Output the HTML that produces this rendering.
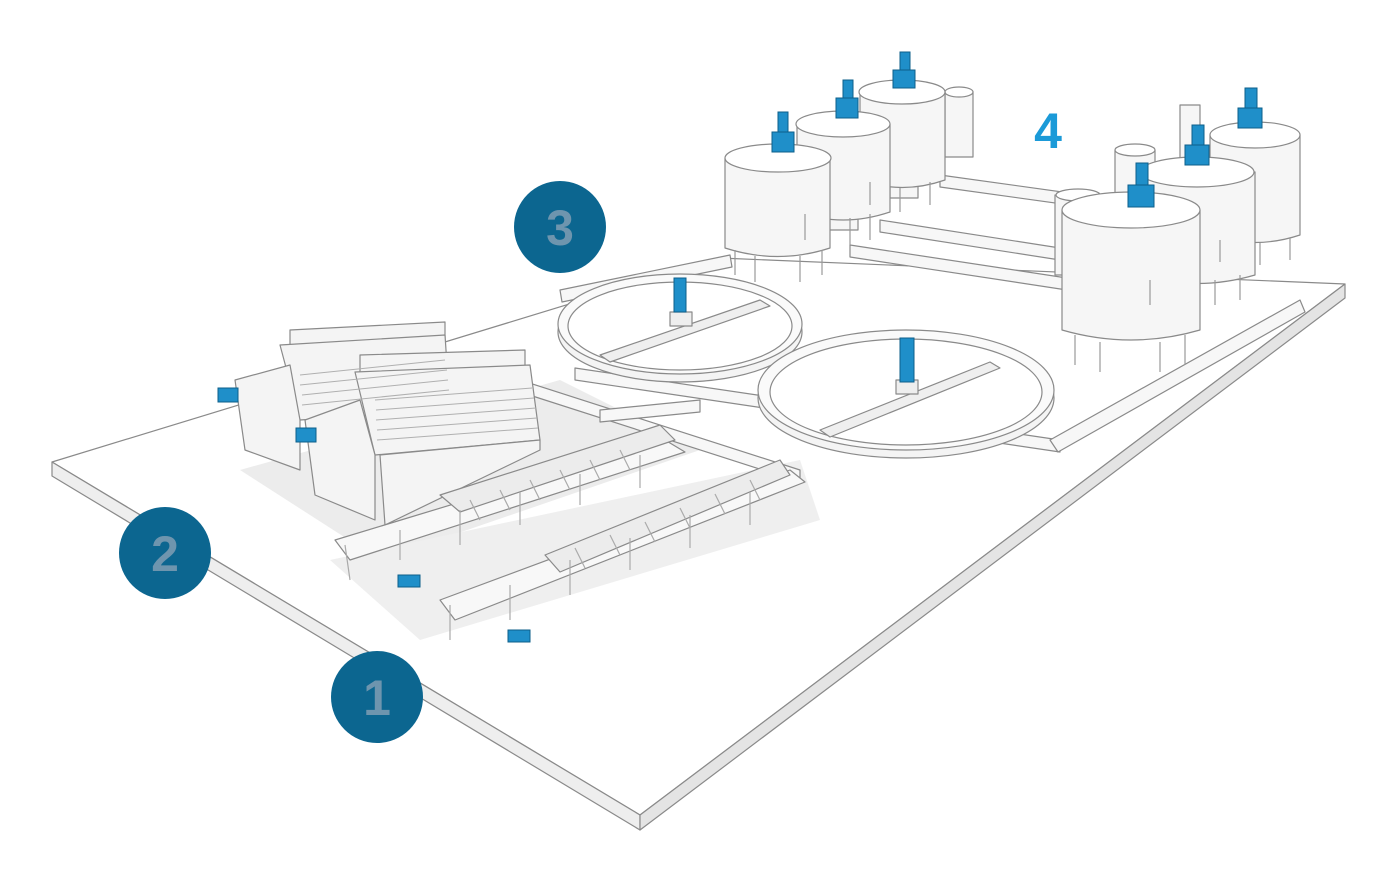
<!DOCTYPE html>
<html><head><meta charset="utf-8"><style>
html,body{margin:0;padding:0;background:#fff;}
svg{display:block}
</style></head><body>
<svg width="1400" height="884" viewBox="0 0 1400 884" xmlns="http://www.w3.org/2000/svg" font-family="Liberation Sans, sans-serif">
<g stroke="#8a8a8a" stroke-width="1.2" stroke-linejoin="round">
<!-- platform -->
<polygon points="52,462 720,258 1345,284 640,815" fill="#ffffff"/>
<polygon points="52,462 640,815 640,830 52,476" fill="#eeeeee"/>
<polygon points="640,815 1345,284 1345,298 640,830" fill="#e4e4e4"/>
<!-- shadows -->
<polygon points="240,470 560,380 700,450 380,560" fill="#ececec" stroke="none"/>
<polygon points="330,560 800,460 820,520 420,640" fill="#efefef" stroke="none"/>
<!-- pipes -->
<g fill="#f7f7f7">
<polygon points="575,368 1060,440 1060,452 575,380"/>
<polygon points="1050,440 1300,300 1305,312 1058,452"/>
<polygon points="560,290 730,255 732,267 562,302"/>
<polygon points="850,245 1080,280 1080,292 850,257"/>
<polygon points="940,175 1120,200 1120,212 940,187"/>
<polygon points="880,220 1060,248 1060,260 880,232"/>
<polygon points="520,380 800,470 800,482 520,392"/>
<polygon points="600,410 700,400 700,412 600,422"/>
</g>
<!-- clarifiers -->
<ellipse cx="680" cy="332" rx="122" ry="50" fill="#f4f4f4"/>
<ellipse cx="680" cy="324" rx="122" ry="50" fill="#fafafa"/>
<ellipse cx="680" cy="326" rx="112" ry="44" fill="#ffffff"/>
<polygon points="600,355 760,300 770,306 610,362" fill="#efefef"/>
<ellipse cx="906" cy="398" rx="148" ry="60" fill="#f4f4f4"/>
<ellipse cx="906" cy="390" rx="148" ry="60" fill="#fafafa"/>
<ellipse cx="906" cy="392" rx="136" ry="53" fill="#ffffff"/>
<polygon points="820,430 990,362 1000,368 830,437" fill="#efefef"/>
<rect x="670" y="312" width="22" height="14" fill="#eee"/>
<rect x="896" y="380" width="22" height="14" fill="#eee"/>
<!-- tanks left group -->
<g fill="#f6f6f6">
<rect x="945" y="92" width="28" height="65"/><ellipse cx="959" cy="92" rx="14" ry="5" fill="#fff"/>
<rect x="890" y="123" width="28" height="75"/><ellipse cx="904" cy="123" rx="14" ry="5" fill="#fff"/>
<rect x="828" y="155" width="30" height="75"/><ellipse cx="843" cy="155" rx="15" ry="5" fill="#fff"/>
<path d="M860,92 L945,92 L945,180 Q902,195 860,180 Z"/><ellipse cx="902" cy="92" rx="43" ry="12" fill="#fff"/>
<path d="M797,124 L890,124 L890,212 Q843,228 797,212 Z"/><ellipse cx="843" cy="124" rx="47" ry="13" fill="#fff"/>
<path d="M725,158 L830,158 L830,248 Q778,265 725,248 Z"/><ellipse cx="778" cy="158" rx="53" ry="14" fill="#fff"/>
<path d="M1180,105 L1200,105 L1200,190 L1180,190 Z"/>
<path d="M1210,135 L1300,135 L1300,235 Q1255,250 1210,235 Z"/><ellipse cx="1255" cy="135" rx="45" ry="13" fill="#fff"/>
<rect x="1115" y="150" width="40" height="70"/><ellipse cx="1135" cy="150" rx="20" ry="6" fill="#fff"/>
<path d="M1140,172 L1255,172 L1255,275 Q1197,292 1140,275 Z"/><ellipse cx="1197" cy="172" rx="57" ry="15" fill="#fff"/>
<rect x="1055" y="195" width="45" height="80"/><ellipse cx="1078" cy="195" rx="22" ry="6" fill="#fff"/>
<path d="M1062,210 L1200,210 L1200,330 Q1131,350 1062,330 Z"/><ellipse cx="1131" cy="210" rx="69" ry="18" fill="#fff"/>
</g>
<!-- legs -->
<g stroke="#999">
<path d="M735,250V275M755,256V282M800,256V282M822,250V275M805,214V240M850,218V245M870,214V240M870,182V205M900,188V212M930,182V205M1075,335V365M1100,342V372M1160,342V372M1185,335V365M1150,280V305M1215,280V305M1240,275V300M1220,240V262M1260,243V265M1290,238V260"/>
</g>
<!-- drum screens -->
<g fill="#f4f4f4">
<polygon points="290,330 445,322 445,340 290,348"/>
<polygon points="280,345 445,335 450,410 300,420"/>
<polygon points="235,380 290,365 300,420 300,470 245,450"/>
<polygon points="360,355 525,350 525,368 360,375"/>
<polygon points="355,372 530,365 540,440 375,455"/>
<polygon points="305,420 360,400 375,455 375,520 315,495"/>
<polygon points="380,455 540,440 540,450 385,525"/>
</g>
<g stroke="#b0b0b0" stroke-width="1">
<path d="M300,375L445,360M300,385L447,370M302,395L448,380M302,405L449,390M375,400L532,388M376,410L534,398M376,420L536,408M377,430L537,418M377,440L538,428"/>
</g>
<!-- filter belts -->
<g fill="#f8f8f8">
<polygon points="335,540 665,440 685,452 350,560"/>
<polygon points="440,600 790,470 805,482 455,620"/>
</g>
<g fill="#ececec">
<polygon points="440,495 660,425 675,440 460,512"/>
<polygon points="545,555 780,460 790,475 560,572"/>
</g>
<g stroke="#aaa">
<path d="M345,545L350,580M400,530V560M460,510V545M520,492V525M580,474V505M640,455V488M450,605V640M510,585V620M570,560V595M630,538V570M690,515V548M750,492V525"/>
<path d="M470,500L480,520M500,490L510,510M530,480L540,500M560,470L570,490M590,460L600,480M620,450L630,470M575,548L585,568M610,535L620,555M645,522L655,542M680,508L690,528M715,494L725,514M750,480L760,500"/>
</g>
</g>
<!-- blue motors -->
<g fill="#1f8fc9" stroke="#0d5f8a" stroke-width="1">
<rect x="218" y="388" width="20" height="14"/><rect x="296" y="428" width="20" height="14"/>
<rect x="772" y="132" width="22" height="20"/><rect x="778" y="112" width="10" height="20"/>
<rect x="836" y="98" width="22" height="20"/><rect x="843" y="80" width="10" height="18"/>
<rect x="893" y="70" width="22" height="18"/><rect x="900" y="52" width="10" height="18"/>
<rect x="1128" y="185" width="26" height="22"/><rect x="1136" y="163" width="12" height="22"/>
<rect x="1185" y="145" width="24" height="20"/><rect x="1192" y="125" width="12" height="20"/>
<rect x="1238" y="108" width="24" height="20"/><rect x="1245" y="88" width="12" height="20"/>
<rect x="674" y="278" width="12" height="34"/><rect x="900" y="338" width="14" height="44"/>
<rect x="398" y="575" width="22" height="12"/><rect x="508" y="630" width="22" height="12"/>
</g>
<!-- labels -->
<circle cx="560" cy="227" r="46" fill="#0c6690"/>
<circle cx="165" cy="553" r="46" fill="#0c6690"/>
<circle cx="377" cy="697" r="46" fill="#0c6690"/>
<g fill="#6e95ae" font-weight="bold" font-size="50" text-anchor="middle">
<text x="560" y="245">3</text><text x="165" y="571">2</text><text x="377" y="715">1</text>
</g>
<text x="1048" y="148" fill="#1b9ad8" font-weight="bold" font-size="50" text-anchor="middle">4</text>
</svg>
</body></html>
